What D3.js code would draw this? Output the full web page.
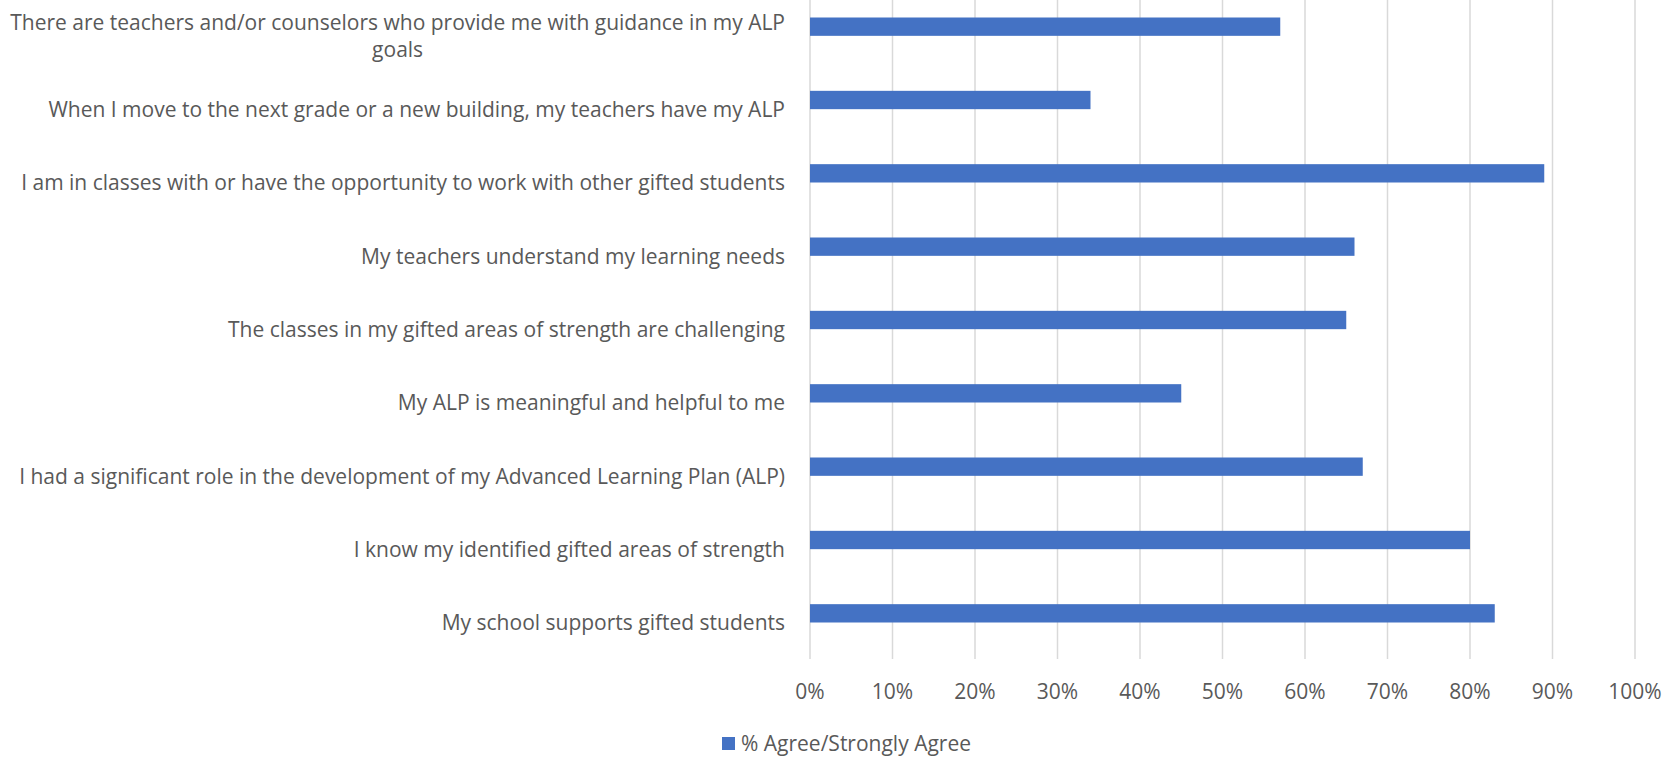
<!DOCTYPE html>
<html>
<head>
<meta charset="utf-8">
<script src="https://cdn.jsdelivr.net/npm/d3@7"></script>
<style>
  body { margin: 0; background: #fff; }
  svg { display: block; }
  text { font-family: "Open Sans", sans-serif; fill: #595959; }
</style>
</head>
<body>
<svg width="1672" height="758"></svg>
<script>
// questions, top to bottom as in the chart
const QUESTIONS = [
    'There are teachers and/or counselors who provide me with guidance in my ALP goals',
    'When I move to the next grade or a new building, my teachers have my ALP',
    'I am in classes with or have the opportunity to work with other gifted students',
    'My teachers understand my learning needs',
    'The classes in my gifted areas of strength are challenging',
    'My ALP is meaningful and helpful to me',
    'I had a significant role in the development of my Advanced Learning Plan (ALP)',
    'I know my identified gifted areas of strength',
    'My school supports gifted students'
];
const AGREE = [57, 34, 89, 66, 65, 45, 67, 80, 83];
const TICKS = [0, 10, 20, 30, 40, 50, 60, 70, 80, 90, 100];
const SERIES_NAME = '% Agree/Strongly Agree';

const data = QUESTIONS.map((q, i) => ({question: q, value: AGREE[i]}));

const svg = d3.select('svg');
const fontSize = 21;

const xScale = d3.scaleLinear()
    .domain([0, 100])
    .range([810, 1635]);

const yScale = d3.scaleBand()
    .domain(QUESTIONS)
    .range([-10, 650])
    .paddingInner(0.75)
    .paddingOuter(0.375);

// gridlines
svg.append('g')
    .selectAll('line')
    .data(TICKS)
    .enter()
    .append('line')
    .attr('x1', d => xScale(d))
    .attr('x2', d => xScale(d))
    .attr('y1', 0)
    .attr('y2', 659)
    .attr('stroke', '#d9d9d9')
    .attr('stroke-width', 1.5);

// bars
svg.append('g')
    .selectAll('.bar')
    .data(data)
    .enter()
    .append('rect')
    .classed('bar', true)
    .attr('x', xScale(0))
    .attr('y', d => yScale(d.question))
    .attr('width', d => xScale(d.value) - xScale(0))
    .attr('height', yScale.bandwidth())
    .attr('fill', '#4472c4');

// category labels (first one wraps onto two lines, centred)
const labelRight = 785;
const labels = svg.append('g')
    .selectAll('text')
    .data(data)
    .enter()
    .append('text')
    .style('font-size', fontSize + 'px')
    .attr('text-anchor', 'end')
    .attr('x', labelRight)
    .attr('y', d => yScale(d.question) + yScale.bandwidth() / 2 + 17)
    .text(d => d.question);

labels.filter((d, i) => i === 0).each(function (d) {
    const words = d.question.split(' ');
    const first = words.slice(0, -1).join(' ');
    const last = words[words.length - 1];
    const t = d3.select(this).text(first);
    const w = this.getComputedTextLength();
    const cx = labelRight - w / 2;
    const cy = yScale(d.question) + yScale.bandwidth() / 2;
    t.text(null).attr('text-anchor', 'middle');
    t.append('tspan').attr('x', cx).attr('y', cy + 3).text(first);
    t.append('tspan').attr('x', cx).attr('y', cy + 30).text(last);
});

// x axis tick labels
svg.append('g')
    .selectAll('text')
    .data(TICKS)
    .enter()
    .append('text')
    .style('font-size', fontSize + 'px')
    .attr('text-anchor', 'middle')
    .attr('x', d => xScale(d))
    .attr('y', 699)
    .text(d => d + '%');

// legend
const legend = svg.append('g');
legend.append('rect')
    .attr('x', 722)
    .attr('y', 737)
    .attr('width', 13)
    .attr('height', 13)
    .attr('fill', '#4472c4');
legend.append('text')
    .style('font-size', fontSize + 'px')
    .attr('x', 741)
    .attr('y', 751)
    .text(SERIES_NAME);
</script>
</body>
</html>
